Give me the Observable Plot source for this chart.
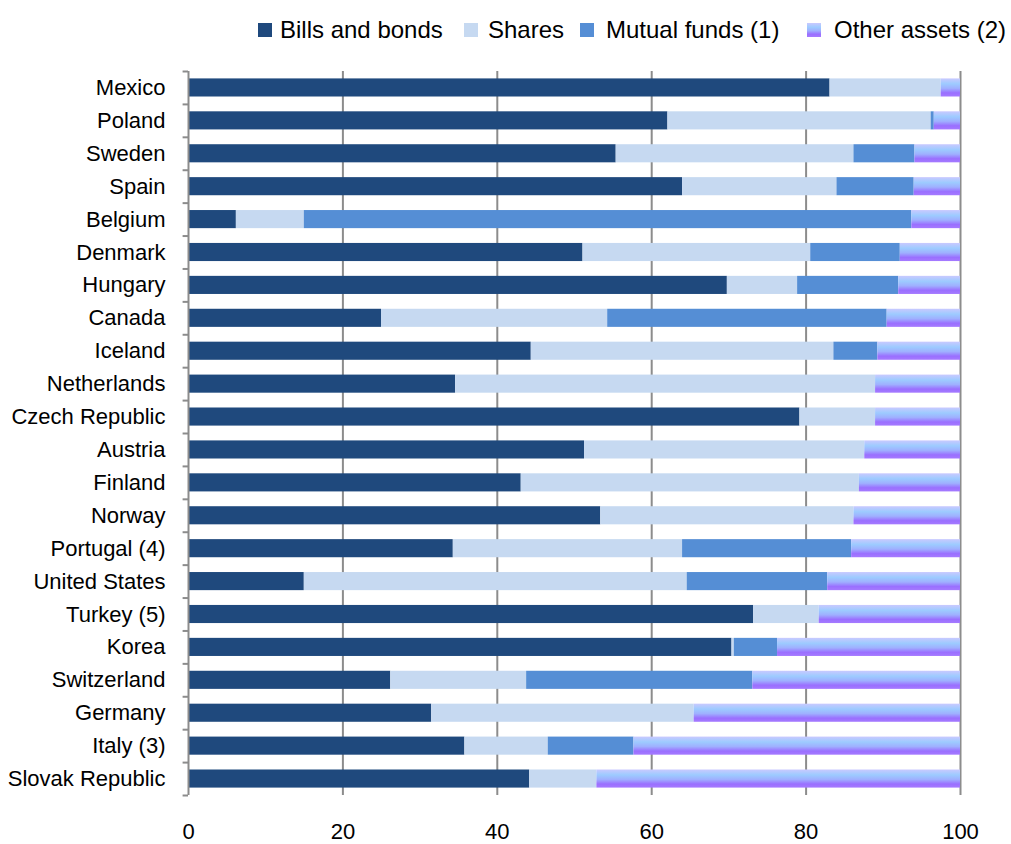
<!DOCTYPE html>
<html>
<head>
<meta charset="utf-8">
<script src="https://cdn.jsdelivr.net/npm/d3@7"></script>
<script src="https://cdn.jsdelivr.net/npm/@observablehq/plot@0.6"></script>
<style>
  html, body { margin: 0; padding: 0; background: #fff; }
  body { width: 1011px; height: 844px; position: relative; overflow: hidden; font-family: "Liberation Sans", Arial, sans-serif; }
  #legend { position: absolute; top: 0; left: 0; width: 1011px; height: 60px; font-size: 24px; color: #000; white-space: nowrap; z-index: 2; }
  #legend .sw { position: absolute; top: 23px; width: 14px; height: 14px; }
  #legend .tx { position: absolute; top: 15px; line-height: 30px; }
  #chart { position: absolute; top: 0; left: 0; z-index: 1; }
</style>
</head>
<body>
<div id="chart"></div>
<div id="legend"></div>
<script>
const countries = ["Mexico","Poland","Sweden","Spain","Belgium","Denmark","Hungary","Canada","Iceland","Netherlands","Czech Republic","Austria","Finland","Norway","Portugal (4)","United States","Turkey (5)","Korea","Switzerland","Germany","Italy (3)","Slovak Republic"];
const seriesNames = ["Bills and bonds","Shares","Mutual funds (1)","Other assets (2)"];
const billsBonds  = [83.1,62.1,55.4,64.0, 6.2,51.1,69.8,25.0,44.4,34.6,79.2,51.3,43.1,53.4,34.3,15.0,73.2,70.4,26.2,31.5,35.8,44.2];
const shares      = [14.4,34.1,30.8,20.0, 8.8,29.5, 9.1,29.3,39.2,54.4, 9.8,36.3,43.8,32.8,29.7,49.6, 8.5, 0.3,17.6,34.0,10.8, 8.7];
const mutualFunds = [ 0.0, 0.4, 7.9,10.0,78.7,11.6,13.1,36.2, 5.7, 0.0, 0.0, 0.0, 0.0, 0.0,21.9,18.2, 0.0, 5.6,29.3, 0.0,11.1, 0.0];
const otherAssets = [ 2.5, 3.4, 5.9, 6.0, 6.3, 7.8, 8.0, 9.5,10.7,11.0,11.0,12.4,13.1,13.8,14.1,17.2,18.3,23.7,26.9,34.5,42.3,47.1];
const xTicks = [0,20,40,60,80,100];
const gridTicks = [20,40,60,80,100];
const colors = ["#1f497d","#c6d9f1","#558ed5","url(#otherGrad)"];

const seriesValues = [billsBonds, shares, mutualFunds, otherAssets];
const data = [];
countries.forEach((c, i) => {
  seriesNames.forEach((s, j) => data.push({country: c, series: s, value: seriesValues[j][i]}));
});

const W = 1011, H = 844, mt = 71, mb = 49, ml = 188, mr = 51;
const step = (H - mt - mb) / countries.length;

const chart = Plot.plot({
  width: W, height: H,
  marginTop: mt, marginBottom: mb, marginLeft: ml, marginRight: mr,
  style: { fontFamily: "'Liberation Sans', Arial, sans-serif", fontSize: "22px", color: "#000", background: "#fff" },
  x: { domain: [0, 100], ticks: xTicks },
  y: { domain: countries, paddingInner: 0.45, paddingOuter: 0.225, round: false },
  color: { domain: seriesNames, range: colors },
  marks: [
    Plot.ruleX(gridTicks, { stroke: "#8c8c8c", strokeWidth: 2 }),
    Plot.barX(data, { y: "country", x: "value", fill: "series" }),
    Plot.ruleX([0], { stroke: "#8c8c8c", strokeWidth: 2 }),
    Plot.ruleY(countries, { y: d => d, x1: -0.7, x2: 0, dy: -step / 2, stroke: "#8c8c8c", strokeWidth: 2 }),
    Plot.ruleY(countries.slice(-1), { y: d => d, x1: -0.7, x2: 0, dy: step / 2, stroke: "#8c8c8c", strokeWidth: 2 }),
    Plot.axisY({ tickSize: 0, tickPadding: 23, label: null, fontSize: 22 }),
    Plot.axisX({ ticks: xTicks, tickSize: 0, tickPadding: 28, label: null, fontSize: 22 })
  ]
});

// gradient definition for "Other assets (2)"
const svgNS = "http://www.w3.org/2000/svg";
const defs = document.createElementNS(svgNS, "defs");
defs.innerHTML = `
  <linearGradient id="otherGrad" x1="0" y1="0" x2="0" y2="1">
    <stop offset="0" stop-color="#c9c9ff"/>
    <stop offset="0.3" stop-color="#9dcbff"/>
    <stop offset="0.55" stop-color="#9fb0ff"/>
    <stop offset="0.8" stop-color="#9a6fff"/>
    <stop offset="1" stop-color="#a57aff"/>
  </linearGradient>`;
chart.insertBefore(defs, chart.firstChild);
document.getElementById("chart").appendChild(chart);

// legend (swatch and text left edges as in the reference layout)
const legendSwatchX = [258, 464, 580, 807];
const legendTextX = [280, 488, 606, 834];
const legend = document.getElementById("legend");
seriesNames.forEach((s, j) => {
  const sw = document.createElement("div");
  sw.className = "sw";
  sw.style.left = legendSwatchX[j] + "px";
  sw.style.background = j === 3 ? "linear-gradient(#c9c9ff, #9dcbff 30%, #9fb0ff 55%, #9a6fff 80%, #a57aff)" : colors[j];
  const t = document.createElement("div");
  t.className = "tx";
  t.style.left = legendTextX[j] + "px";
  t.textContent = s;
  legend.appendChild(sw); legend.appendChild(t);
});
</script>
</body>
</html>
